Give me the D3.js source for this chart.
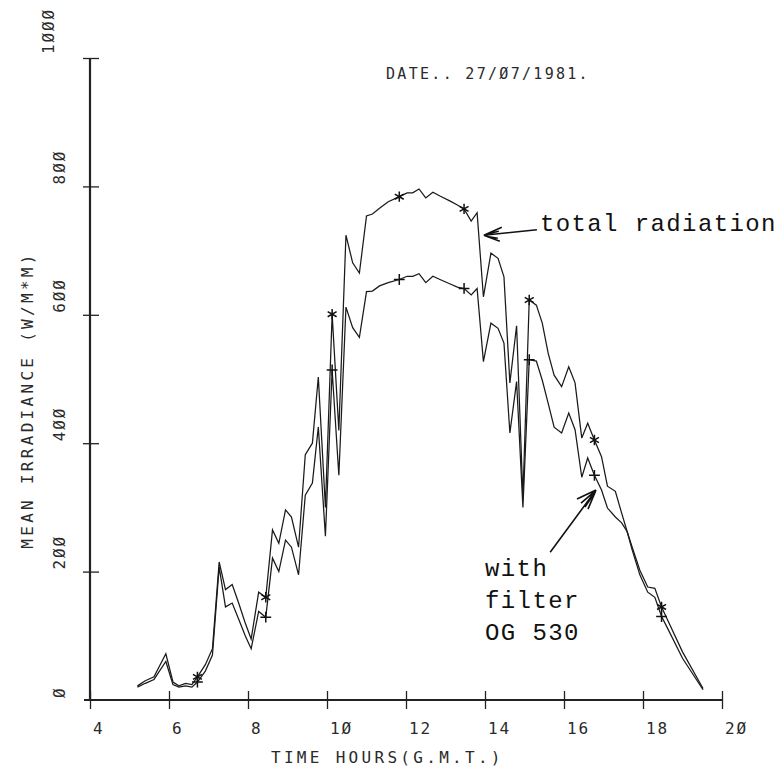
<!DOCTYPE html>
<html>
<head>
<meta charset="utf-8">
<script src="https://cdn.jsdelivr.net/npm/d3@7"></script>
<style>
  html, body { margin: 0; padding: 0; background: #fff; }
  svg { display: block; }
  .plot-text { font-family: "DejaVu Sans Mono", monospace; fill: #2a2a2a; }
  .type-text { font-family: "Liberation Mono", monospace; fill: #111; }
</style>
</head>
<body>
<svg id="chart" width="784" height="770"></svg>
<script>
// Irradiance record, 27 July 1981 (times in G.M.T.)
const hours = [5.20,5.40,5.62,5.92,6.10,6.25,6.42,6.58,6.72,6.92,
  7.10,7.27,7.43,7.60,7.77,7.93,8.08,8.27,8.45,8.62,
  8.78,8.95,9.10,9.28,9.45,9.63,9.78,9.96,10.13,10.30,
  10.48,10.65,10.82,11.00,11.15,11.33,11.55,11.83,12.03,12.17,
  12.33,12.50,12.68,12.86,13.12,13.30,13.47,13.65,13.80,13.96,
  14.15,14.33,14.48,14.63,14.80,14.96,15.12,15.30,15.45,15.60,
  15.75,15.94,16.12,16.28,16.45,16.60,16.77,16.95,17.10,17.30,
  17.46,17.60,17.72,17.92,18.12,18.30,18.47,18.62,19.00,19.52];

// Total radiation (W/m*m)
const totalRadiation = [22,30,36,72,28,22,26,24,36,55,
  80,215,172,180,150,120,95,168,160,265,
  244,296,285,238,382,400,503,300,601,420,
  724,681,665,754,757,766,776,784,790,790,
  796,782,791,785,777,771,765,746,759,628,
  696,688,659,494,583,316,623,615,587,540,
  506,488,519,494,408,431,405,379,333,325,
  291,262,239,202,176,174,145,125,75,18];

// Radiation through the OG 530 filter (W/m*m)
const filterOG530 = [20,26,32,60,24,20,22,20,28,45,
  70,207,145,151,125,100,80,138,129,221,
  200,249,238,195,319,338,425,255,514,350,
  612,580,565,636,637,645,650,655,660,660,
  664,650,660,655,648,643,641,631,641,527,
  587,579,556,416,496,300,530,528,498,462,
  425,416,447,421,347,377,350,327,299,285,
  276,262,235,195,168,160,130,112,65,16];

// Times at which the plotter marked each curve
const markerHours = [6.72,8.45,10.13,11.83,13.47,15.12,16.77,18.47];

// Axis ticks and labels
const xTicks = [4,6,8,10,12,14,16,18,20];
const xTickLabels = ["4","6","8","1Ø","12","14","16","18","2Ø"];
const yTicks = [0,200,400,600,800,1000];
const yTickLabels = ["Ø","2ØØ","4ØØ","6ØØ","8ØØ","1ØØØ"];

const xTitle = "TIME HOURS(G.M.T.)";
const yTitle = "MEAN IRRADIANCE (W/M*M)";
const dateText = "DATE.. 27/Ø7/1981.";

// Annotation anchors in data units: [hour, irradiance]
const totalArrow = { text: [15.39, 731], tip: [13.97, 724] };
const filterArrow = { lines: ["with", "filter", "OG 530"], text: [14.0, 193], tail: [15.65, 230], tip: [16.81, 327] };

const svg = d3.select("#chart");
const x = d3.scaleLinear().domain([4, 20]).range([90, 722]);
const y = d3.scaleLinear().domain([0, 1000]).range([700, 58]);

// ---- axes ----
const xAxis = svg.append("g").attr("transform", `translate(0,${y(0)})`)
  .call(d3.axisBottom(x).tickValues(xTicks).tickSize(9).tickFormat(""));
xAxis.select(".domain").attr("d", `M${x(4) - 6},0H${x(20)}`).attr("stroke", "#222").attr("stroke-width", 2.2);
xAxis.selectAll(".tick line").attr("y1", -9).attr("y2", 9).attr("stroke", "#222").attr("stroke-width", 1.3);

const yAxis = svg.append("g").attr("transform", `translate(${x(4)},0)`)
  .call(d3.axisLeft(y).tickValues(yTicks.filter(d => d > 0)).tickSize(8).tickFormat(""));
yAxis.select(".domain").attr("d", `M0,${y(1000)}V${y(0)}`).attr("stroke", "#222").attr("stroke-width", 2.2);
yAxis.selectAll(".tick line").attr("x1", -7).attr("x2", 9).attr("stroke", "#222").attr("stroke-width", 1.3);

// tick labels: the plotter writes them starting at the tick
svg.append("g").selectAll("text").data(xTicks).join("text")
  .attr("class", "plot-text")
  .attr("x", d => x(d) + 3)
  .attr("y", y(0) + 34)
  .attr("font-size", 16)
  .attr("letter-spacing", 1.9)
  .text((d, i) => xTickLabels[i]);

// the four-digit top label sits further out from the axis
svg.append("g").selectAll("text").data(yTicks).join("text")
  .attr("class", "plot-text")
  .attr("transform", d => `translate(${d === 1000 ? 54 : 65},${y(d) - (d === 1000 ? 4 : 2)}) rotate(-90)`)
  .attr("font-size", 16)
  .attr("letter-spacing", 1.9)
  .text((d, i) => yTickLabels[i]);

svg.append("text").attr("class", "plot-text")
  .attr("x", 271).attr("y", 763)
  .attr("font-size", 16).attr("letter-spacing", 3.3)
  .text(xTitle);

svg.append("text").attr("class", "plot-text")
  .attr("transform", `translate(33,${400}) rotate(-90)`)
  .attr("text-anchor", "middle")
  .attr("font-size", 16).attr("letter-spacing", 3.3)
  .text(yTitle);

svg.append("text").attr("class", "plot-text")
  .attr("x", 386).attr("y", 79)
  .attr("font-size", 15).attr("letter-spacing", 2.3)
  .text(dateText);

// ---- curves ----
const line = d3.line().x((d, i) => x(hours[i])).y(d => y(d));
[totalRadiation, filterOG530].forEach(series => {
  svg.append("path").datum(series)
    .attr("d", line)
    .attr("fill", "none")
    .attr("stroke", "#1a1a1a")
    .attr("stroke-width", 1.25)
    .attr("stroke-linejoin", "miter");
});

// ---- plotter markers ----
const idx = markerHours.map(h => hours.indexOf(h));
svg.append("g").selectAll("path").data(idx).join("path")
  .attr("transform", i => `translate(${x(hours[i])},${y(totalRadiation[i])})`)
  .attr("d", d3.symbol(d3.symbolAsterisk, 75))
  .attr("fill", "none").attr("stroke", "#111").attr("stroke-width", 1.5);
svg.append("g").selectAll("path").data(idx).join("path")
  .attr("transform", i => `translate(${x(hours[i])},${y(filterOG530[i])})`)
  .attr("d", d3.symbol(d3.symbolPlus, 40))
  .attr("fill", "none").attr("stroke", "#111").attr("stroke-width", 1.5);

// ---- annotations ----
const ann = svg.append("g");
ann.append("text").attr("class", "type-text")
  .attr("x", x(totalArrow.text[0])).attr("y", y(totalArrow.text[1]))
  .attr("font-size", 24).attr("letter-spacing", 1.4)
  .text("total radiation");

const tx = x(totalArrow.tip[0]), ty = y(totalArrow.tip[1]);
const sx = x(totalArrow.text[0]) - 3, sy = y(totalArrow.text[1]) - 1;
ann.append("path")
  .attr("d", `M${sx},${sy}L${tx},${ty}M${tx},${ty}L${tx + 18},${ty - 8}M${tx},${ty}L${tx + 16},${ty + 6}M${tx + 2},${ty - 1}L${tx + 15},${ty - 4}M${tx + 2},${ty + 1}L${tx + 14},${ty + 3}`)
  .attr("fill", "none").attr("stroke", "#111").attr("stroke-width", 1.5);

filterArrow.lines.forEach((t, i) => {
  ann.append("text").attr("class", "type-text")
    .attr("x", x(filterArrow.text[0])).attr("y", y(filterArrow.text[1]) + i * 32)
    .attr("font-size", 24).attr("letter-spacing", 1.4)
    .text(t);
});
const fx = x(filterArrow.tip[0]), fy = y(filterArrow.tip[1]);
const fsx = x(filterArrow.tail[0]), fsy = y(filterArrow.tail[1]);
ann.append("path")
  .attr("d", `M${fsx},${fsy}L${fx},${fy}M${fx},${fy}L${fx - 19},${fy + 9}M${fx},${fy}L${fx - 8},${fy + 19}M${fx - 1},${fy + 1}L${fx - 15},${fy + 13}M${fx - 1},${fy + 2}L${fx - 11},${fy + 17}`)
  .attr("fill", "none").attr("stroke", "#111").attr("stroke-width", 1.6);
</script>
</body>
</html>
